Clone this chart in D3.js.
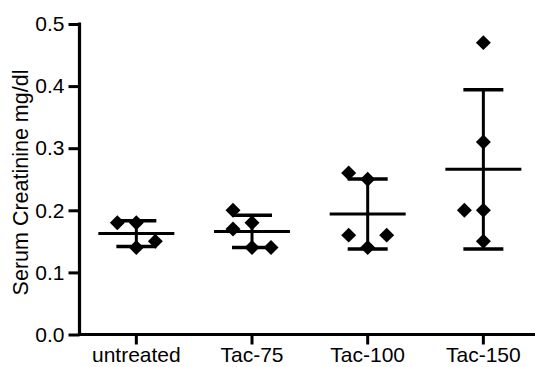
<!DOCTYPE html>
<html>
<head>
<meta charset="utf-8">
<script src="https://cdn.jsdelivr.net/npm/d3@7"></script>
<style>
  html, body { margin: 0; padding: 0; background: #fff; }
  svg { display: block; font-family: Arial, "Liberation Sans", Helvetica, sans-serif; }
</style>
</head>
<body>
<svg id="chart" width="535" height="367"></svg>
<script>
// ---- data ----
const categories = ["untreated", "Tac-75", "Tac-100", "Tac-150"];
const untreated = [0.18, 0.18, 0.15, 0.14];
const tac75 = [0.20, 0.17, 0.18, 0.14, 0.14];
const tac100 = [0.26, 0.25, 0.16, 0.16, 0.14];
const tac150 = [0.47, 0.31, 0.20, 0.20, 0.15];
// side-by-side slot of each point within its column (-1 left, 0 centre, 1 right)
const untreatedSlots = [-1, 0, 1, 0];
const tac75Slots = [-1, -1, 0, 0, 1];
const tac100Slots = [-1, 0, -1, 1, 0];
const tac150Slots = [0, 0, -1, 0, 0];
const yTicks = [0.0, 0.1, 0.2, 0.3, 0.4, 0.5];
const yTitle = "Serum Creatinine mg/dl";

const groups = [
  { name: categories[0], values: untreated, slots: untreatedSlots },
  { name: categories[1], values: tac75, slots: tac75Slots },
  { name: categories[2], values: tac100, slots: tac100Slots },
  { name: categories[3], values: tac150, slots: tac150Slots }
];

// ---- layout ----
const svg = d3.select("#chart");
const x = d3.scaleBand().domain(categories).range([78.5, 541.2]).padding(0);
const y = d3.scaleLinear().domain([0, 0.5]).range([334.5, 24]);
const slotWidth = 19;

// y axis
const yAxis = svg.append("g")
  .attr("transform", "translate(79.5,0)")
  .call(d3.axisLeft(y).tickValues(yTicks).tickFormat(d3.format(".1f")).tickSize(11).tickSizeOuter(0).tickPadding(4));
yAxis.select(".domain").remove();
yAxis.selectAll(".tick line").attr("stroke", "#000").attr("stroke-width", 3);
yAxis.selectAll(".tick text").attr("fill", "#000").style("font-size", "21px");
svg.append("line")
  .attr("x1", 79.5).attr("x2", 79.5)
  .attr("y1", y(0.5) - 1.5).attr("y2", y(0) + 1.6)
  .attr("stroke", "#000").attr("stroke-width", 3.2);

// x axis
const xAxis = svg.append("g")
  .attr("transform", `translate(0,${y(0)})`)
  .call(d3.axisBottom(x).tickSize(10).tickSizeOuter(0).tickPadding(3));
xAxis.select(".domain").remove();
xAxis.selectAll(".tick line").attr("stroke", "#000").attr("stroke-width", 3);
xAxis.selectAll(".tick text").attr("fill", "#000").style("font-size", "21px");
svg.append("line")
  .attr("x1", 78).attr("x2", x.range()[1])
  .attr("y1", y(0)).attr("y2", y(0))
  .attr("stroke", "#000").attr("stroke-width", 3.2);

// y title
svg.append("text")
  .attr("transform", `translate(28,${(68 + 297) / 2}) rotate(-90)`)
  .attr("text-anchor", "middle")
  .style("font-size", "21.5px")
  .attr("fill", "#000")
  .text(yTitle);

// points
const diamond = d3.symbol().type(d3.symbolSquare).size(112);
groups.forEach(g => {
  const cx = x(g.name) + x.bandwidth() / 2;
  const gg = svg.append("g");
  gg.selectAll("path.pt")
    .data(g.values)
    .join("path")
    .attr("class", "pt")
    .attr("d", diamond)
    .attr("fill", "#000")
    .attr("transform", (d, i) => `translate(${cx + g.slots[i] * slotWidth},${y(d)}) rotate(45)`);

  const m = d3.mean(g.values);
  const sd = d3.deviation(g.values);
  // mean line
  gg.append("line")
    .attr("x1", cx - 38).attr("x2", cx + 38)
    .attr("y1", y(m)).attr("y2", y(m))
    .attr("stroke", "#000").attr("stroke-width", 3);
  // SD bar
  gg.append("line")
    .attr("x1", cx).attr("x2", cx)
    .attr("y1", y(m + sd)).attr("y2", y(m - sd))
    .attr("stroke", "#000").attr("stroke-width", 3);
  [m + sd, m - sd].forEach(v => {
    gg.append("line")
      .attr("x1", cx - 20).attr("x2", cx + 20)
      .attr("y1", y(v)).attr("y2", y(v))
      .attr("stroke", "#000").attr("stroke-width", 3.5);
  });
});
</script>
</body>
</html>
